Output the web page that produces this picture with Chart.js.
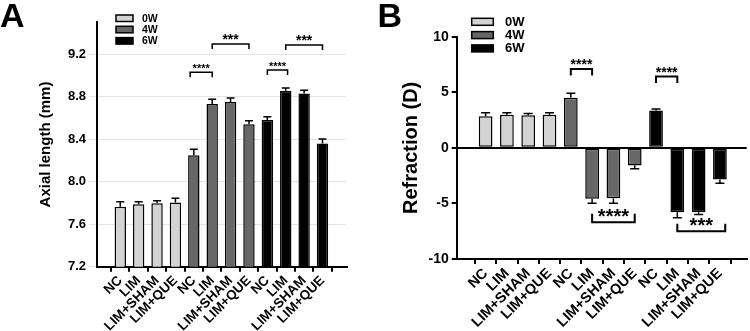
<!DOCTYPE html>
<html>
<head>
<meta charset="utf-8">
<script src="https://cdn.jsdelivr.net/npm/chart.js@4.4.1/dist/chart.umd.min.js"></script>
<style>
  html, body { margin: 0; padding: 0; background: #fff; }
  #wrap { position: relative; width: 750px; height: 331px; }
  .panel { position: absolute; top: 0; width: 375px; height: 331px; }
</style>
</head>
<body>
<div id="wrap">
  <div class="panel" style="left:0"><canvas id="chart-a" width="375" height="331"></canvas></div>
  <div class="panel" style="left:375px"><canvas id="chart-b" width="375" height="331"></canvas></div>
</div>
<script>
// ── Data ──────────────────────────────────────────────────
const categories = ['NC', 'LIM', 'LIM+SHAM', 'LIM+QUE',
                    'NC', 'LIM', 'LIM+SHAM', 'LIM+QUE',
                    'NC', 'LIM', 'LIM+SHAM', 'LIM+QUE'];
const groups     = ['0W', '4W', '6W'];
const groupFill  = ['#d3d3d3', '#676767', '#000000'];

// Panel A – axial length (mm), mean and SEM per group
const axial0W    = [7.765, 7.787, 7.797, 7.803];
const axial4W    = [8.25, 8.73, 8.75, 8.54];
const axial6W    = [8.58, 8.855, 8.83, 8.36];
const axialErr0W = [0.047, 0.025, 0.024, 0.041];
const axialErr4W = [0.055, 0.047, 0.038, 0.034];
const axialErr6W = [0.030, 0.026, 0.030, 0.042];
const axialTicks = [7.2, 7.6, 8.0, 8.4, 8.8, 9.2];
// [from index, to index, level, label]
const axialBrackets = [
  [3.8, 5, 9.03, '****'],
  [5, 7, 9.296, '***'],
  [8, 9.1, 9.051, '****'],
  [9, 11, 9.286, '***']
];

// Panel B – refraction (D)
const refr0W    = [2.84, 2.97, 2.94, 2.97];
const refr4W    = [4.5, -4.59, -4.53, -1.59];
const refr6W    = [3.35, -5.79, -5.79, -2.85];
const refrErr0W = [0.31, 0.18, 0.14, 0.18];
const refrErr4W = [0.41, 0.39, 0.45, 0.30];
const refrErr6W = [0.15, 0.51, 0.21, 0.33];
const refrTicks = [-10, -5, 0, 5, 10];
const refrBrackets = [
  [4, 5, 7.1, '****'],
  [8, 9, 6.41, '****'],
  [5, 7, -6.69, '****'],
  [9, 11.25, -7.5, '***']
];

const FONT = "'Liberation Sans', Arial, sans-serif";
Chart.defaults.font.family = FONT;
Chart.defaults.font.weight = 'bold';
Chart.defaults.color = '#000';

// ── Helpers ───────────────────────────────────────────────
function makeDatasets(series, errors) {
  return series.map((vals, g) => ({
    label: groups[g],
    data: vals.map((v, i) => ({ x: g * 4 + i, y: v })),
    errors: errors[g],
    backgroundColor: groupFill[g],
    borderColor: '#000',
    borderWidth: 1.5,
    borderSkipped: false,
    grouped: false
  }));
}

// error bars, significance brackets, legend and panel letter
const extrasPlugin = {
  id: 'extras',
  afterDatasetsDraw(chart, args, opts) {
    const ctx = chart.ctx;
    const xs = chart.scales.x, ys = chart.scales.y;
    ctx.save();
    ctx.strokeStyle = '#000';
    ctx.lineWidth = opts.errWidth;
    chart.data.datasets.forEach(ds => {
      ds.data.forEach((p, i) => {
        const e  = ds.errors[i];
        const px = xs.getPixelForValue(p.x);
        const y0 = ys.getPixelForValue(p.y);
        const y1 = ys.getPixelForValue(p.y + (p.y < 0 ? -e : e));
        ctx.beginPath();
        ctx.moveTo(px, y0); ctx.lineTo(px, y1);
        ctx.moveTo(px - opts.cap / 2, y1); ctx.lineTo(px + opts.cap / 2, y1);
        ctx.stroke();
      });
    });

    ctx.lineWidth = opts.bracketWidth;
    ctx.textAlign = 'center';
    ctx.textBaseline = 'alphabetic';
    opts.brackets.forEach((b, k) => {
      const [from, to, level, label] = b;
      const x0 = xs.getPixelForValue(from);
      const x1 = xs.getPixelForValue(to);
      const yy = ys.getPixelForValue(level);
      const leg = level < 0 ? -opts.legs[k] : opts.legs[k];
      ctx.beginPath();
      ctx.moveTo(x0, yy + leg); ctx.lineTo(x0, yy); ctx.lineTo(x1, yy); ctx.lineTo(x1, yy + leg);
      ctx.stroke();
      ctx.font = `bold ${opts.starSizes[k]}px ${FONT}`;
      ctx.fillStyle = '#000';
      ctx.fillText(label, (x0 + x1) / 2, yy + opts.starShift[k]);
    });
    ctx.restore();
  },
  afterDraw(chart, args, opts) {
    const ctx = chart.ctx;
    const lg  = opts.legend;
    ctx.save();
    chart.data.datasets.forEach((ds, i) => {
      const top = lg.y + i * lg.step;
      ctx.fillStyle = ds.backgroundColor;
      ctx.fillRect(lg.x, top, lg.w, lg.h);
      ctx.strokeStyle = '#000';
      ctx.lineWidth = 1.5;
      ctx.strokeRect(lg.x, top, lg.w, lg.h);
      ctx.fillStyle = '#000';
      ctx.font = `bold ${lg.font}px ${FONT}`;
      ctx.textAlign = 'left';
      ctx.textBaseline = 'middle';
      ctx.fillText(ds.label, lg.textX, top + lg.h / 2 + 0.5);
    });
    ctx.font = `bold 34px ${FONT}`;
    ctx.textAlign = 'left';
    ctx.textBaseline = 'alphabetic';
    ctx.fillText(opts.tag, opts.tagX, 27);
    ctx.restore();
  }
};

function axisStyle(extra) {
  return Object.assign({
    border: { color: '#000', width: 2 },
    grid: { drawOnChartArea: false, drawTicks: true, tickLength: 5, color: '#000', lineWidth: 2 }
  }, extra);
}

function buildChart(id, cfg) {
  return new Chart(document.getElementById(id).getContext('2d'), {
    type: 'bar',
    data: { datasets: makeDatasets(cfg.series, cfg.errors) },
    plugins: [extrasPlugin],
    options: {
      responsive: false,
      animation: false,
      barPercentage: cfg.barPct,
      categoryPercentage: 1,
      layout: { padding: cfg.padding },
      plugins: {
        legend: { display: false },
        tooltip: { enabled: false },
        extras: cfg.extras
      },
      scales: {
        x: axisStyle({
          type: 'linear',
          min: cfg.xMin, max: cfg.xMax,
          afterBuildTicks: s => { s.ticks = categories.map((c, i) => ({ value: i })); },
          afterFit: s => { s.height = cfg.xHeight; },
          ticks: {
            autoSkip: false, minRotation: 45, maxRotation: 45, padding: 1,
            font: { size: cfg.xFont, weight: 'bold' },
            callback: v => categories[v]
          }
        }),
        y: axisStyle({
          min: cfg.yMin, max: cfg.yMax,
          afterBuildTicks: s => { s.ticks = cfg.yTicks.map(v => ({ value: v })); },
          afterFit: s => { s.width = cfg.yWidth; },
          ticks: { padding: 3, font: { size: cfg.yFont, weight: 'bold' }, callback: cfg.yFmt },
          grid: cfg.yGrid,
          title: {
            display: true, text: cfg.yTitle,
            font: { size: cfg.titleFont, weight: 'bold', lineHeight: 1.2 },
            padding: { top: cfg.titlePad, bottom: 0 }
          }
        })
      }
    }
  });
}

// ── Panel A ───────────────────────────────────────────────
buildChart('chart-a', {
  series: [axial0W, axial4W, axial6W],
  errors: [axialErr0W, axialErr4W, axialErr6W],
  barPct: 0.62,
  padding: { left: 0, top: 22.3, right: 28.3, bottom: 0 },
  xMin: -0.7, xMax: 11.75, xHeight: 64.3, xFont: 13.5,
  yMin: 7.2, yMax: 9.5, yTicks: axialTicks, yWidth: 97, yFont: 13,
  yFmt: v => v.toFixed(1),
  yTitle: 'Axial length (mm)', titleFont: 15, titlePad: 37,
  extras: {
    tag: 'A', tagX: 0,
    errWidth: 1.5, cap: 8, bracketWidth: 1.5,
    brackets: axialBrackets,
    legs: [5, 5, 5, 5],
    starSizes: [11, 14, 11, 14],
    starShift: [0, 0, 0, 0],
    legend: { x: 116, y: 15, step: 11.3, w: 17, h: 6.5, textX: 142, font: 10.5 }
  }
});

// ── Panel B ───────────────────────────────────────────────
buildChart('chart-b', {
  series: [refr0W, refr4W, refr6W],
  errors: [refrErr0W, refrErr4W, refrErr6W],
  barPct: 0.645,
  padding: { left: 0, top: 36.7, right: 3.3, bottom: 0 },
  xMin: -0.79, xMax: 11.69, xHeight: 72, xFont: 14.5,
  yMin: -10, yMax: 10, yTicks: refrTicks, yWidth: 81.7, yFont: 14,
  yFmt: v => String(v),
  yGrid: {
    drawOnChartArea: true, drawTicks: true, tickLength: 5, lineWidth: 2,
    color: c => (c.tick && c.tick.value === 0 ? '#000' : 'rgba(0,0,0,0)'),
    tickColor: '#000'
  },
  yTitle: 'Refraction (D)', titleFont: 20, titlePad: 24.7,
  extras: {
    tag: 'B', tagX: 2.5,
    errWidth: 1.5, cap: 9, bracketWidth: 2,
    brackets: refrBrackets,
    legs: [6.5, 6.5, 8.5, 7.5],
    starSizes: [14, 14, 20, 20],
    starShift: [0.5, 0.5, 1, 1],
    legend: { x: 96.7, y: 18.3, step: 13.3, w: 21.6, h: 7, textX: 130, font: 13 }
  }
});
</script>
</body>
</html>
